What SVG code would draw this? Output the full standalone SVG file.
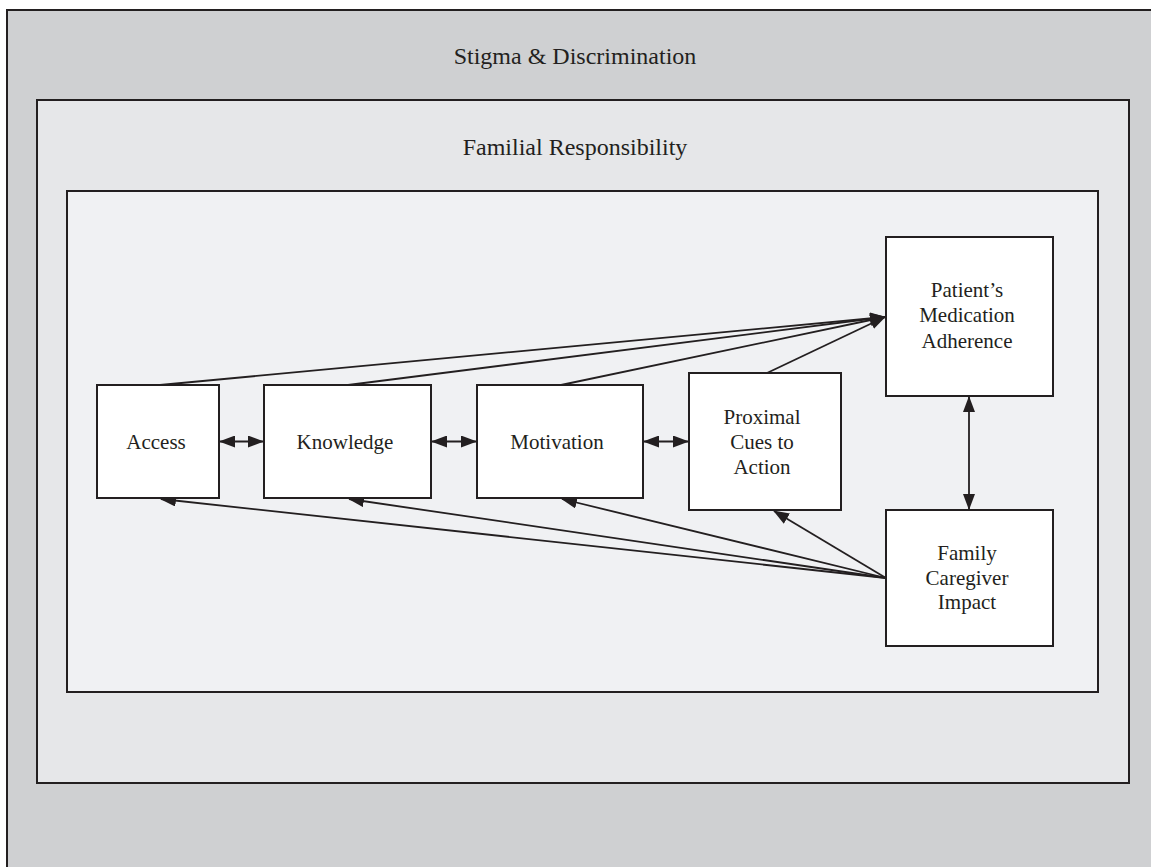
<svg xmlns="http://www.w3.org/2000/svg" width="1151" height="867" viewBox="0 0 1151 867">
<style>
.frame{stroke:#231f20;stroke-width:2}
.node{fill:#ffffff;stroke:#231f20;stroke-width:2}
.t{font-family:"Liberation Serif","Times New Roman",serif;fill:#231f20;text-anchor:middle}
.title{font-size:24px}
.lbl{font-size:21px}
.c{stroke:#231f20;stroke-width:1.8;fill:none}
</style>
<defs>
<marker id="ah" markerUnits="userSpaceOnUse" markerWidth="16" markerHeight="12" refX="15" refY="6" orient="auto-start-reverse" viewBox="0 0 16 12">
<path d="M0,0 L16,6 L0,12 z" fill="#231f20"/>
</marker>
</defs>
<rect width="1151" height="867" fill="#ffffff"/>
<g id="stigma">
<rect class="frame" x="7" y="10" width="1160" height="880" fill="#cfd0d2"/>
<text class="t title" x="575" y="64">Stigma &amp; Discrimination</text>
</g>
<g id="familial">
<rect class="frame" x="37" y="100" width="1092" height="683" fill="#e6e7e9"/>
<text class="t title" x="575" y="155">Familial Responsibility</text>
</g>
<g id="inner">
<rect class="frame" x="67" y="191" width="1031" height="501" fill="#f0f1f3"/>
</g>
<g id="connectors">
<line class="c" x1="160" y1="385" x2="885" y2="317" marker-end="url(#ah)"/>
<line class="c" x1="348" y1="385" x2="885" y2="317" marker-end="url(#ah)"/>
<line class="c" x1="561" y1="385" x2="885" y2="317" marker-end="url(#ah)"/>
<line class="c" x1="767" y1="373" x2="885" y2="317" marker-end="url(#ah)"/>
<line class="c" x1="220" y1="441.5" x2="263" y2="441.5" marker-start="url(#ah)" marker-end="url(#ah)"/>
<line class="c" x1="432" y1="441.5" x2="476" y2="441.5" marker-start="url(#ah)" marker-end="url(#ah)"/>
<line class="c" x1="644" y1="441.5" x2="688" y2="441.5" marker-start="url(#ah)" marker-end="url(#ah)"/>
<line class="c" x1="969" y1="397" x2="969" y2="509" marker-start="url(#ah)" marker-end="url(#ah)"/>
<line class="c" x1="886" y1="578" x2="161" y2="499" marker-end="url(#ah)"/>
<line class="c" x1="886" y1="578" x2="349" y2="499" marker-end="url(#ah)"/>
<line class="c" x1="886" y1="578" x2="562" y2="499" marker-end="url(#ah)"/>
<line class="c" x1="886" y1="578" x2="774" y2="511" marker-end="url(#ah)"/>
</g>
<g id="access">
<rect class="node" x="97" y="385" width="122" height="113"/>
<text class="t lbl" x="156" y="448.5">Access</text>
</g>
<g id="knowledge">
<rect class="node" x="264" y="385" width="167" height="113"/>
<text class="t lbl" x="345" y="448.5">Knowledge</text>
</g>
<g id="motivation">
<rect class="node" x="477" y="385" width="166" height="113"/>
<text class="t lbl" x="557" y="448.5">Motivation</text>
</g>
<g id="proximal">
<rect class="node" x="689" y="373" width="152" height="137"/>
<text class="t lbl" x="762" y="424">Proximal</text>
<text class="t lbl" x="762" y="449">Cues to</text>
<text class="t lbl" x="762" y="474">Action</text>
</g>
<g id="patient">
<rect class="node" x="886" y="237" width="167" height="159"/>
<text class="t lbl" x="967" y="297">Patient’s</text>
<text class="t lbl" x="967" y="322">Medication</text>
<text class="t lbl" x="967" y="347.5">Adherence</text>
</g>
<g id="family">
<rect class="node" x="886" y="510" width="167" height="136"/>
<text class="t lbl" x="967" y="560">Family</text>
<text class="t lbl" x="967" y="585">Caregiver</text>
<text class="t lbl" x="967" y="609">Impact</text>
</g>
</svg>
